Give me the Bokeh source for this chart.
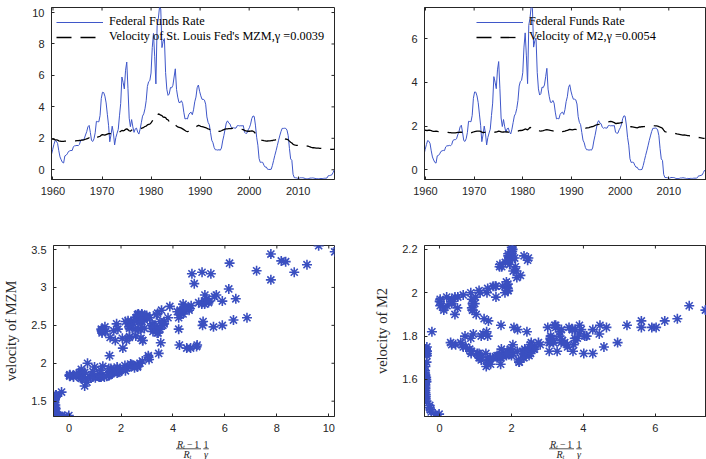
import numpy as np
from bokeh.plotting import figure
from bokeh.models import (Range1d, FixedTicker, Legend, LegendItem,
                          CustomJSTickFormatter, ColumnDataSource)
from bokeh.core.properties import value
from bokeh.layouts import column, row
from bokeh.embed import file_html
from bokeh.resources import INLINE

# ---------------- data (quarterly, 1959Q1 .. 2017Q2) ----------------
quarter_index = np.arange(234)
dates = 1959.70 + 0.2475 * quarter_index

# Federal funds rate, scaled with gamma = 0.0039 (top-left / bottom-left)
ffr_mzm = [
    0.98, 1.30, 1.61, 1.86, 1.82, 1.68, 1.21, 0.82, 0.63, 0.47, 0.43, 0.88,
    0.92, 1.01, 1.16, 1.20, 1.23, 1.22, 1.45, 1.53, 1.53, 1.55, 1.53, 1.61,
    1.85, 1.91, 1.91, 1.97, 2.21, 2.42, 2.73, 2.82, 2.37, 1.86, 1.80, 1.97,
    2.35, 3.08, 3.06, 3.05, 3.45, 4.53, 4.93, 4.91, 4.68, 4.25, 3.53, 2.83,
    1.78, 2.21, 2.77, 2.33, 1.58, 2.05, 2.32, 2.57, 3.43, 4.22, 5.90, 5.56,
    5.14, 6.33, 6.85, 5.16, 3.28, 2.74, 3.19, 2.73, 2.38, 2.60, 2.65, 2.40,
    2.27, 2.58, 2.99, 3.41, 3.56, 3.88, 4.39, 5.30, 5.60, 5.67, 6.15, 7.77,
    8.67, 7.22, 5.46, 9.16, 9.61, 10.35, 10.23, 7.77, 8.17, 8.34, 6.18, 5.12,
    4.73, 4.82, 5.23, 5.21, 5.37, 5.90, 6.42, 5.11, 4.62, 4.28, 4.27, 4.39,
    4.22, 3.66, 3.23, 3.26, 3.23, 3.50, 3.61, 3.66, 3.50, 3.81, 4.32, 4.62,
    5.22, 5.39, 4.99, 4.70, 4.48, 4.48, 4.43, 4.17, 3.36, 3.01, 2.87, 2.37,
    1.88, 1.72, 1.41, 1.27, 1.27, 1.25, 1.28, 1.24, 1.38, 1.83, 2.17, 2.58,
    2.98, 3.11, 2.97, 2.92, 2.70, 2.63, 2.67, 2.65, 2.65, 2.80, 2.81, 2.79,
    2.80, 2.79, 2.81, 2.39, 2.31, 2.33, 2.54, 2.67, 2.90, 3.26, 3.42, 3.39,
    2.84, 2.07, 1.56, 0.71, 0.47, 0.48, 0.47, 0.29, 0.17, 0.17, 0.03, 0.02,
    0.02, 0.03, 0.28, 0.60, 0.92, 1.21, 1.53, 1.85, 2.15, 2.42, 2.63, 2.63,
    2.64, 2.63, 2.52, 2.17, 1.36, 0.69, 0.60, -0.29, -0.50, -0.51, -0.52, -0.55,
    -0.54, -0.51, -0.51, -0.51, -0.53, -0.56, -0.57, -0.57, -0.56, -0.53, -0.53, -0.52,
    -0.53, -0.55, -0.57, -0.56, -0.57, -0.56, -0.56, -0.56, -0.55, -0.54, -0.54, -0.52,
    -0.38, -0.37, -0.35, -0.32, -0.17, -0.01,
]

# Velocity of St. Louis Fed's MZM
vel_mzm = [
    1.95, 1.96, 1.93, 1.90, 1.90, 1.88, 1.84, 1.82, 1.80, 1.80, 1.81, 1.82,
    1.82, 1.81, 1.82, 1.82, 1.82, 1.82, 1.83, 1.84, 1.84, 1.85, 1.85, 1.86,
    1.87, 1.88, 1.89, 1.91, 1.94, 1.97, 2.00, 2.03, 1.99, 1.93, 1.90, 1.92,
    1.96, 2.05, 2.08, 2.10, 2.13, 2.20, 2.24, 2.22, 2.20, 2.24, 2.27, 2.30,
    2.30, 2.30, 2.33, 2.35, 2.34, 2.33, 2.34, 2.36, 2.40, 2.45, 2.50, 2.48,
    2.50, 2.57, 2.60, 2.55, 2.48, 2.45, 2.52, 2.55, 2.55, 2.57, 2.58, 2.55,
    2.56, 2.60, 2.63, 2.66, 2.70, 2.75, 2.78, 2.85, 2.88, 2.90, 2.98, 3.10,
    3.20, 3.22, 3.18, 3.30, 3.55, 3.52, 3.47, 3.44, 3.35, 3.34, 3.32, 3.20,
    3.18, 3.05, 2.90, 2.82, 2.80, 2.82, 2.85, 2.78, 2.72, 2.70, 2.68, 2.65,
    2.60, 2.55, 2.50, 2.45, 2.42, 2.45, 2.50, 2.52, 2.55, 2.60, 2.65, 2.70,
    2.78, 2.82, 2.80, 2.76, 2.74, 2.72, 2.70, 2.68, 2.64, 2.60, 2.58, 2.52,
    2.45, 2.43, 2.42, 2.40, 2.42, 2.43, 2.44, 2.45, 2.48, 2.52, 2.55, 2.58,
    2.60, 2.60, 2.61, 2.62, 2.62, 2.64, 2.65, 2.64, 2.64, 2.65, 2.64, 2.62,
    2.60, 2.57, 2.55, 2.50, 2.48, 2.46, 2.45, 2.45, 2.46, 2.47, 2.45, 2.40,
    2.30, 2.20, 2.10, 2.00, 1.92, 1.89, 1.87, 1.85, 1.84, 1.82, 1.83, 1.84,
    1.84, 1.85, 1.86, 1.88, 1.89, 1.91, 1.93, 1.95, 1.97, 1.98, 1.98, 1.97,
    1.96, 1.95, 1.94, 1.90, 1.82, 1.75, 1.70, 1.62, 1.58, 1.56, 1.55, 1.55,
    1.55, 1.56, 1.57, 1.58, 1.57, 1.55, 1.52, 1.50, 1.48, 1.45, 1.42, 1.40,
    1.40, 1.39, 1.38, 1.37, 1.37, 1.36, 1.36, 1.35, 1.35, 1.34, 1.33, 1.32,
    1.31, 1.31, 1.30, 1.30, 1.30, 1.31,
]

# Federal funds rate, scaled with gamma = 0.0054 (top-right / bottom-right)
ffr_m2 = [
    0.71, 0.94, 1.16, 1.34, 1.31, 1.21, 0.87, 0.59, 0.45, 0.34, 0.31, 0.64,
    0.66, 0.73, 0.84, 0.87, 0.89, 0.88, 1.05, 1.10, 1.10, 1.12, 1.10, 1.16,
    1.34, 1.38, 1.38, 1.42, 1.60, 1.75, 1.97, 2.04, 1.71, 1.34, 1.30, 1.42,
    1.70, 2.22, 2.21, 2.20, 2.49, 3.27, 3.56, 3.55, 3.38, 3.07, 2.55, 2.04,
    1.29, 1.60, 2.00, 1.68, 1.14, 1.48, 1.68, 1.86, 2.48, 3.05, 4.26, 4.01,
    3.71, 4.57, 4.95, 3.73, 2.37, 1.98, 2.30, 1.97, 1.72, 1.88, 1.91, 1.73,
    1.64, 1.86, 2.16, 2.46, 2.57, 2.80, 3.17, 3.83, 4.04, 4.09, 4.44, 5.61,
    6.26, 5.21, 3.94, 6.61, 6.94, 7.47, 7.39, 5.61, 5.90, 6.02, 4.46, 3.70,
    3.42, 3.48, 3.78, 3.76, 3.88, 4.26, 4.64, 3.69, 3.34, 3.09, 3.08, 3.17,
    3.05, 2.64, 2.33, 2.35, 2.33, 2.53, 2.61, 2.64, 2.53, 2.75, 3.12, 3.34,
    3.77, 3.89, 3.60, 3.39, 3.23, 3.23, 3.20, 3.01, 2.43, 2.17, 2.07, 1.71,
    1.36, 1.24, 1.02, 0.92, 0.92, 0.90, 0.92, 0.90, 1.00, 1.32, 1.57, 1.86,
    2.15, 2.25, 2.14, 2.11, 1.95, 1.90, 1.93, 1.91, 1.91, 2.02, 2.03, 2.01,
    2.02, 2.01, 2.03, 1.73, 1.67, 1.68, 1.83, 1.93, 2.09, 2.35, 2.47, 2.45,
    2.05, 1.49, 1.13, 0.51, 0.34, 0.35, 0.34, 0.21, 0.12, 0.12, 0.02, 0.01,
    0.01, 0.02, 0.20, 0.43, 0.66, 0.87, 1.10, 1.34, 1.55, 1.75, 1.90, 1.90,
    1.91, 1.90, 1.82, 1.57, 0.98, 0.50, 0.43, -0.21, -0.35, -0.35, -0.36, -0.38,
    -0.38, -0.35, -0.35, -0.35, -0.36, -0.39, -0.40, -0.40, -0.39, -0.37, -0.37, -0.36,
    -0.37, -0.38, -0.40, -0.39, -0.40, -0.39, -0.39, -0.39, -0.38, -0.38, -0.38, -0.36,
    -0.27, -0.27, -0.25, -0.23, -0.12, -0.01,
]

# Velocity of M2
vel_m2 = [
    1.80, 1.81, 1.80, 1.80, 1.82, 1.81, 1.79, 1.77, 1.76, 1.76, 1.77, 1.76,
    1.75, 1.75, 1.74, 1.73, 1.73, 1.72, 1.72, 1.72, 1.71, 1.70, 1.70, 1.69,
    1.69, 1.69, 1.69, 1.70, 1.71, 1.71, 1.72, 1.72, 1.70, 1.67, 1.66, 1.67,
    1.67, 1.68, 1.68, 1.69, 1.71, 1.73, 1.75, 1.76, 1.77, 1.77, 1.77, 1.76,
    1.72, 1.70, 1.71, 1.71, 1.70, 1.70, 1.70, 1.71, 1.72, 1.73, 1.72, 1.72,
    1.73, 1.75, 1.77, 1.76, 1.74, 1.72, 1.73, 1.74, 1.74, 1.73, 1.72, 1.71,
    1.71, 1.72, 1.73, 1.74, 1.75, 1.76, 1.77, 1.79, 1.80, 1.80, 1.81, 1.84,
    1.87, 1.85, 1.83, 1.88, 1.94, 1.92, 1.92, 1.87, 1.84, 1.84, 1.85, 1.83,
    1.78, 1.77, 1.78, 1.79, 1.81, 1.83, 1.84, 1.83, 1.82, 1.80, 1.79, 1.78,
    1.77, 1.74, 1.72, 1.70, 1.70, 1.72, 1.74, 1.75, 1.76, 1.77, 1.79, 1.80,
    1.83, 1.85, 1.84, 1.83, 1.84, 1.85, 1.85, 1.84, 1.82, 1.83, 1.84, 1.85,
    1.87, 1.88, 1.90, 1.92, 1.92, 1.93, 1.95, 1.97, 1.98, 2.00, 2.03, 2.05,
    2.07, 2.08, 2.10, 2.12, 2.13, 2.15, 2.16, 2.17, 2.18, 2.19, 2.20, 2.21,
    2.20, 2.18, 2.16, 2.12, 2.12, 2.13, 2.14, 2.15, 2.16, 2.17, 2.16, 2.15,
    2.10, 2.03, 2.00, 1.98, 1.97, 1.96, 1.95, 1.94, 1.93, 1.92, 1.94, 1.96,
    1.96, 1.97, 1.98, 1.98, 1.99, 2.00, 2.01, 2.02, 2.03, 2.03, 2.04, 2.02,
    2.01, 2.01, 2.00, 1.98, 1.95, 1.93, 1.90, 1.82, 1.75, 1.73, 1.73, 1.74,
    1.74, 1.73, 1.72, 1.71, 1.68, 1.66, 1.64, 1.63, 1.62, 1.61, 1.60, 1.59,
    1.60, 1.59, 1.58, 1.57, 1.56, 1.56, 1.55, 1.54, 1.53, 1.52, 1.51, 1.50,
    1.48, 1.47, 1.46, 1.45, 1.44, 1.44,
]

year_ticks = [1960, 1970, 1980, 1990, 2000, 2010]
tl_yticks = [0, 2, 4, 6, 8, 10]
tr_yticks = [0, 2, 4, 6]
bl_xticks = [0, 2, 4, 6, 8, 10]
bl_yticks = [1.5, 2, 2.5, 3, 3.5]
br_xticks = [0, 2, 4, 6]
br_yticks = [1.6, 1.8, 2, 2.2]

legend_ffr = "Federal Funds Rate"
legend_mzm = "Velocity of St. Louis Fed's MZM,\u03b3 =0.0039"
legend_m2 = "Velocity of M2,\u03b3 =0.0054"
ylabel_mzm = "velocity of MZM"
ylabel_m2 = "velocity of M2"

# ---------------- styling ----------------
AX = "#262626"
BLUE = "#3f57c9"
MARK = "#3a4fc0"
SANS = "Liberation Sans"
SERIF = "Liberation Serif"


def style_axis(ax):
    ax.axis_line_color = AX
    ax.major_tick_line_color = AX
    ax.major_tick_in = 3
    ax.major_tick_out = 0
    ax.minor_tick_line_color = None
    ax.major_label_text_font = SANS
    ax.major_label_text_color = AX
    ax.major_label_text_font_size = "11px"
    ax.major_label_standoff = 7


def make_fig(width, height, bl, br, bt, bb, xr, yr, xt, yt, right_ticks=True,
             fmt=None):
    p = figure(width=width, height=height, x_range=Range1d(*xr),
               y_range=Range1d(*yr), output_backend="svg",
               toolbar_location=None, min_border_left=bl, min_border_right=br,
               min_border_top=bt, min_border_bottom=bb)
    p.grid.visible = False
    p.outline_line_color = AX
    p.background_fill_color = "white"
    p.border_fill_color = "white"
    p.xaxis.ticker = FixedTicker(ticks=xt)
    p.yaxis.ticker = FixedTicker(ticks=yt)
    if fmt is not None:
        p.yaxis.formatter = fmt
    style_axis(p.xaxis[0])
    style_axis(p.yaxis[0])
    # inward ticks on the top edge (and right edge); half of each dash is
    # clipped by the frame so that only the inner part shows
    p.scatter(x=xt, y=[yr[1]] * len(xt), marker="dash", angle=np.pi / 2,
              size=6, line_color=AX, line_width=1)
    if right_ticks:
        p.scatter(x=[xr[1]] * len(yt), y=yt, marker="dash", size=6,
                  line_color=AX, line_width=1)
    return p


def add_legend(p, r1, r2, lab2, x):
    leg = Legend(items=[LegendItem(label=legend_ffr, renderers=[r1]),
                        LegendItem(label=lab2, renderers=[r2])],
                 location=(x, 132))
    leg.background_fill_alpha = 0
    leg.border_line_alpha = 0
    leg.padding = 3
    leg.spacing = 0
    leg.margin = 0
    leg.glyph_width = 47
    leg.glyph_height = 14
    leg.label_height = 14
    leg.label_standoff = 6
    leg.label_text_font = SERIF
    leg.label_text_font_size = "12.3px"
    leg.label_text_color = "black"
    p.add_layout(leg)


def style_ylabel(p, text):
    p.yaxis[0].axis_label = text
    p.yaxis[0].axis_label_text_font = SERIF
    p.yaxis[0].axis_label_text_font_size = "14.5px"
    p.yaxis[0].axis_label_text_font_style = "normal"
    p.yaxis[0].axis_label_text_color = AX
    p.yaxis[0].axis_label_standoff = 9


fmt1 = CustomJSTickFormatter(code="return String(Math.round(tick*10)/10);")

# ---------------- top-left ----------------
tl = make_fig(336, 205, 51, 2, 7, 26, (1959.70, 2017.40), (-0.62, 10.32),
              year_ticks, tl_yticks)
a1 = tl.line(dates, ffr_mzm, line_color=BLUE, line_width=1)
a2 = tl.line(dates, vel_mzm, line_color="black", line_width=1.3,
             line_dash="15 9")
add_legend(tl, a1, a2, legend_mzm, 2)

# ---------------- top-right ----------------
tr = make_fig(370, 205, 88, 0, 7, 26, (1959.80, 2017.75), (-0.44, 7.42),
              year_ticks, tr_yticks, right_ticks=False)
b1 = tr.line(dates, ffr_m2, line_color=BLUE, line_width=1)
b2 = tr.line(dates, vel_m2, line_color="black", line_width=1.3,
             line_dash="15 9")
add_legend(tr, b1, b2, legend_m2, 49)

# ---------------- bottom-left ----------------
bl = make_fig(336, 233, 51, 2, 40, 22, (-0.60, 10.22), (1.298, 3.553),
              bl_xticks, bl_yticks, fmt=fmt1)
bl.scatter(ffr_mzm, vel_mzm, marker="asterisk", size=10, line_color=MARK,
           line_width=1.6)
style_ylabel(bl, ylabel_mzm)

# ---------------- bottom-right ----------------
br = make_fig(370, 233, 88, 0, 40, 22, (-0.416, 7.42), (1.429, 2.218),
              br_xticks, br_yticks, right_ticks=False, fmt=fmt1)
br.scatter(ffr_m2, vel_m2, marker="asterisk", size=10, line_color=MARK,
           line_width=1.6)
style_ylabel(br, ylabel_m2)

# ---------------- x-axis labels of the scatter panels: (R_t-1)/R_t * 1/gamma
lab = figure(width=706, height=21, x_range=Range1d(0, 706),
             y_range=Range1d(21, 0), output_backend="svg",
             toolbar_location=None, x_axis_location=None,
             y_axis_location=None, min_border=0)
lab.grid.visible = False
lab.outline_line_color = None
txt_x, txt_y, txt_t, txt_s, txt_st, txt_al = [], [], [], [], [], []
bar_x0, bar_x1, bar_y = [], [], []
for base in (51, 424):
    parts = [
        ("R", 125.5, 6, "10px", "italic", "left"),
        ("t", 131.6, 8, "6.5px", "italic", "left"),
        ("\u2212", 135.5, 6, "10px", "normal", "left"),
        ("1", 142.8, 6, "10px", "normal", "left"),
        ("R", 132.0, 15.5, "10px", "italic", "left"),
        ("t", 138.1, 17.5, "6.5px", "italic", "left"),
        ("1", 154.5, 6, "10px", "normal", "center"),
        ("\u03b3", 154.5, 16, "10px", "italic", "center"),
    ]
    for t, dx, y, s, st, al in parts:
        txt_x.append(base + dx)
        txt_y.append(y)
        txt_t.append(t)
        txt_s.append(s)
        txt_st.append(st)
        txt_al.append(al)
    bar_x0 += [base + 124.5, base + 151.8]
    bar_x1 += [base + 149.5, base + 157.3]
    bar_y += [10.3, 10.3]

src = ColumnDataSource(dict(x=txt_x, y=txt_y, text=txt_t, size=txt_s,
                            style=txt_st, align=txt_al))
lab.text(x="x", y="y", text="text", source=src, text_font=value(SERIF),
         text_font_size="size", text_font_style="style", text_align="align",
         text_baseline="middle", text_color=AX)
lab.segment(x0=bar_x0, y0=bar_y, x1=bar_x1, y1=bar_y, line_color=AX,
            line_width=0.8)

layout = column(row(tl, tr, spacing=0), row(bl, br, spacing=0), lab,
                spacing=0)

open("out.html", "w").write(file_html(layout, INLINE))
